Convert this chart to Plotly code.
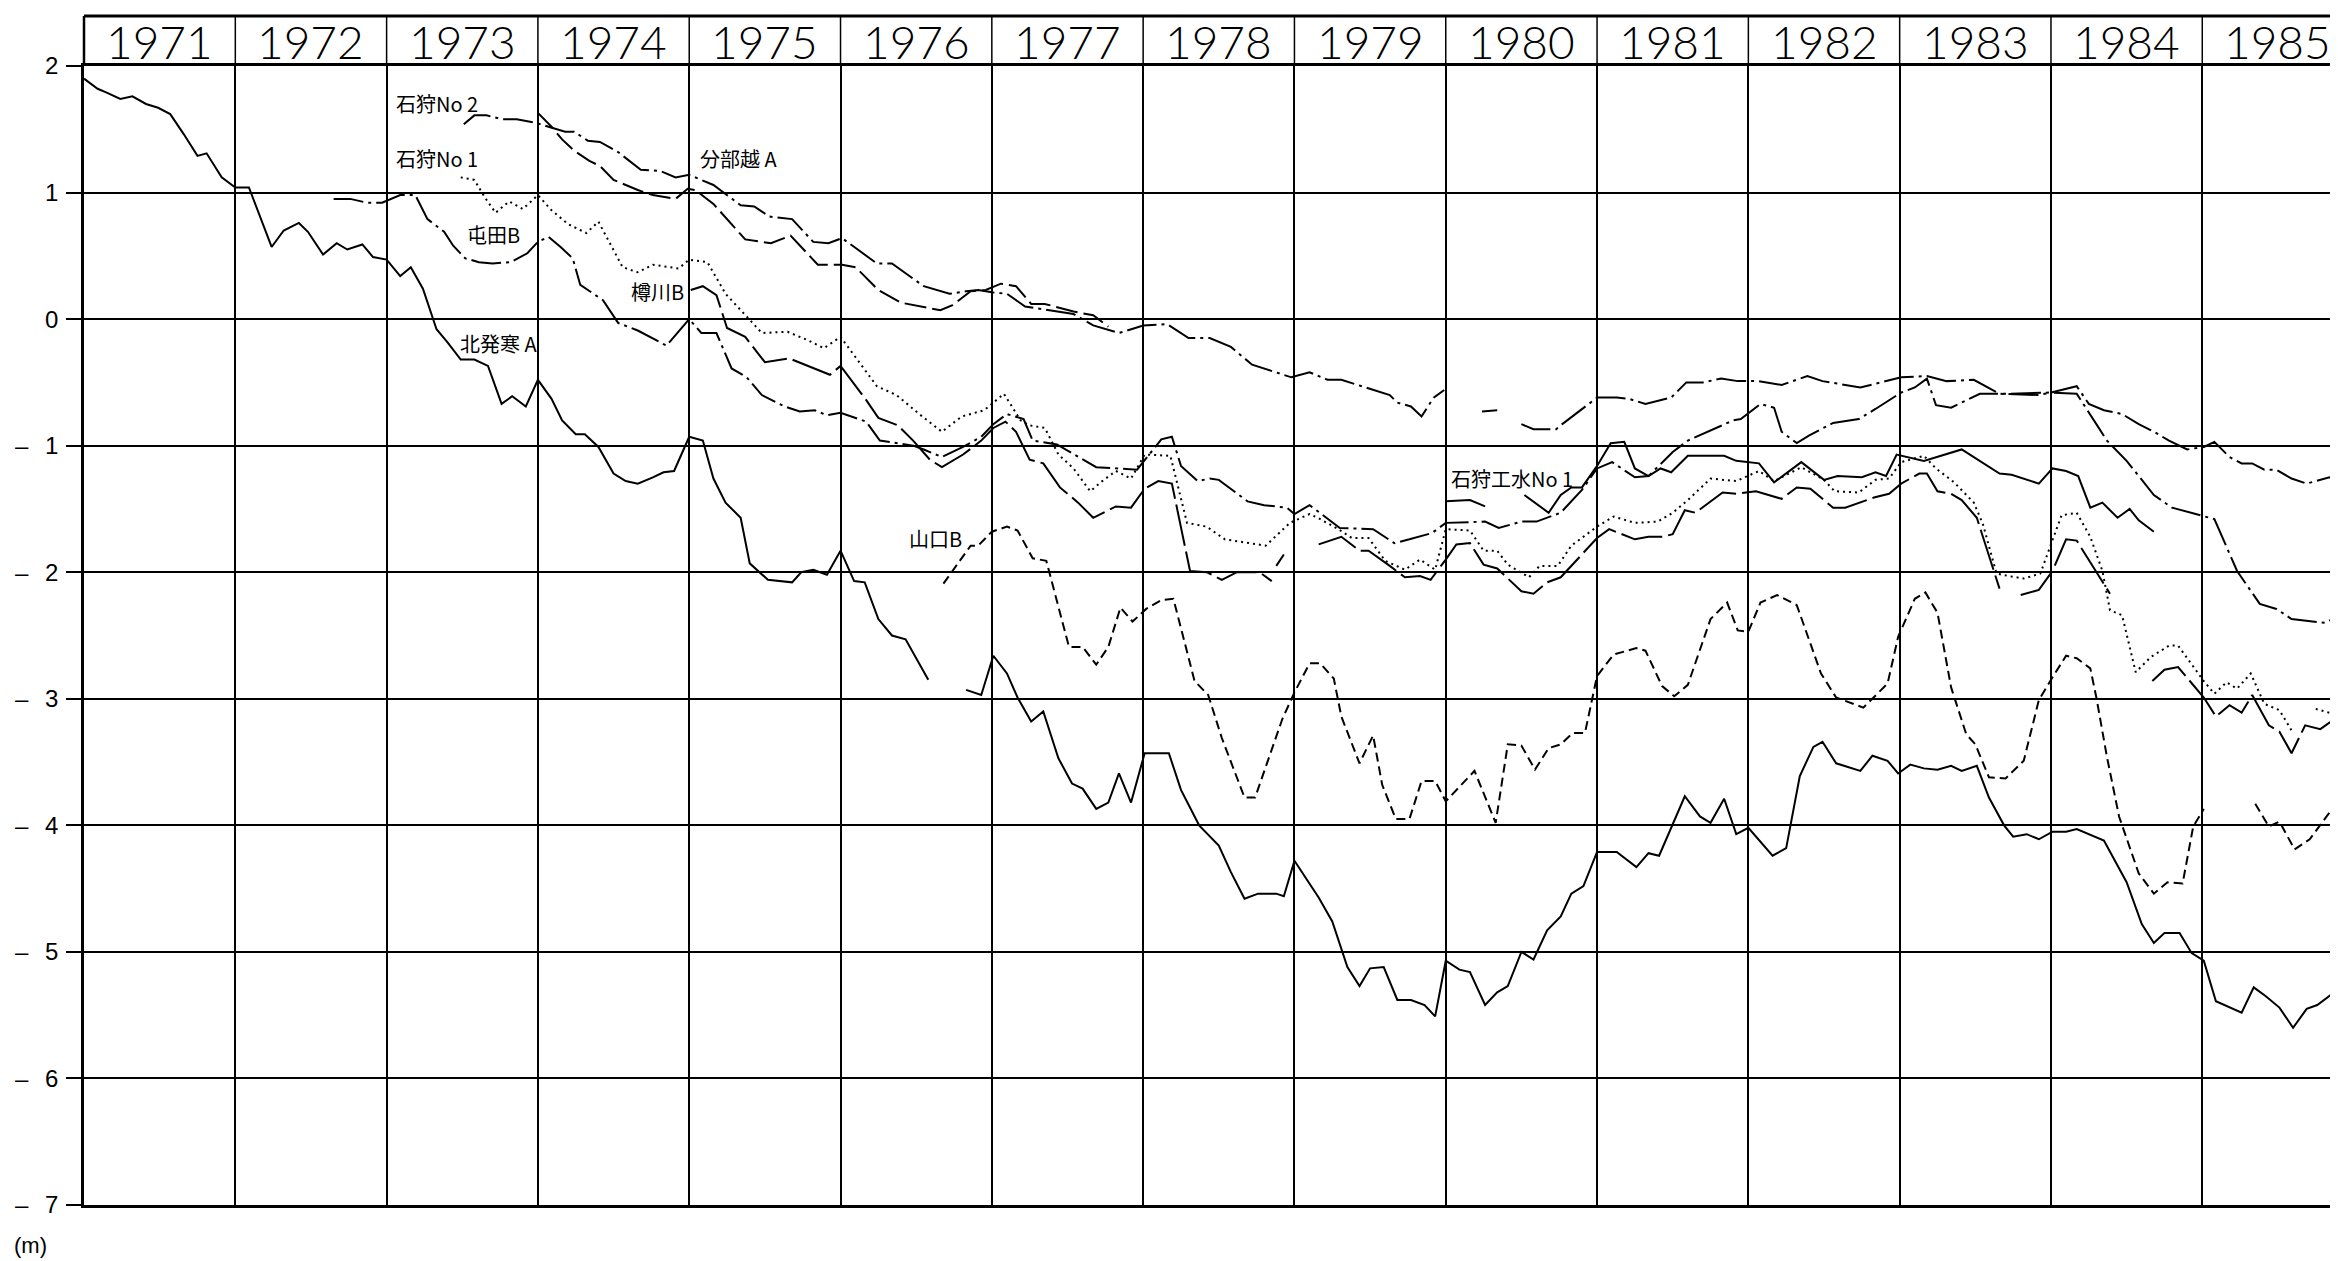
import plotly.graph_objects as go

# ---------------- axis / label data ----------------
YEARS = list(range(1971, 1986))
X_RIGHT = 1985.897
Y_TICKS = [2, 1, 0, -1, -2, -3, -4, -5, -6, -7]
Y_TICK_TEXT = ["2", "1", "0", "–\u2002\u20091", "–\u2002\u20092", "–\u2002\u20093",
               "–\u2002\u20094", "–\u2002\u20095", "–\u2002\u20096", "–\u2002\u20097"]
UNIT_LABEL = "(m)"

# ---------------- series (decimal year, level m) ----------------
KITAHASSAMU_A = [
    (1971.0, 1.90), (1971.09, 1.82), (1971.15, 1.79), (1971.24, 1.74), (1971.32, 1.76),
    (1971.41, 1.70), (1971.49, 1.67), (1971.57, 1.62), (1971.66, 1.46), (1971.75, 1.29),
    (1971.81, 1.31), (1971.91, 1.12), (1972.0, 1.04), (1972.09, 1.04), (1972.24, 0.57),
    (1972.32, 0.70), (1972.42, 0.76), (1972.48, 0.69), (1972.58, 0.51), (1972.67, 0.60),
    (1972.74, 0.55), (1972.84, 0.59), (1972.91, 0.49), (1973.0, 0.47), (1973.09, 0.34),
    (1973.16, 0.41), (1973.24, 0.24), (1973.33, -0.08), (1973.4, -0.18), (1973.49, -0.32),
    (1973.58, -0.32), (1973.67, -0.37), (1973.76, -0.67), (1973.83, -0.61), (1973.92, -0.69),
    (1974.0, -0.48), (1974.09, -0.63), (1974.16, -0.80), (1974.25, -0.91), (1974.31, -0.91),
    (1974.4, -1.01), (1974.5, -1.22), (1974.58, -1.28), (1974.66, -1.30), (1974.76, -1.25),
    (1974.83, -1.21), (1974.9, -1.20), (1975.0, -0.93), (1975.09, -0.96), (1975.16, -1.26),
    (1975.24, -1.45), (1975.34, -1.57), (1975.4, -1.93), (1975.52, -2.06), (1975.68, -2.08),
    (1975.74, -2.00), (1975.82, -1.98), (1975.91, -2.02), (1976.0, -1.83), (1976.09, -2.07),
    (1976.16, -2.08), (1976.25, -2.37), (1976.34, -2.50), (1976.43, -2.53), (1976.58, -2.85),
    (1976.7, None),
    (1976.83, -2.93), (1976.93, -2.97), (1977.01, -2.66), (1977.1, -2.80), (1977.17, -2.99),
    (1977.26, -3.18), (1977.34, -3.10), (1977.44, -3.47), (1977.53, -3.67), (1977.6, -3.71),
    (1977.69, -3.87), (1977.77, -3.82), (1977.84, -3.59), (1977.92, -3.82), (1978.01, -3.43),
    (1978.17, -3.43), (1978.25, -3.72), (1978.37, -4.00), (1978.5, -4.16), (1978.58, -4.37),
    (1978.67, -4.58), (1978.76, -4.54), (1978.88, -4.54), (1978.93, -4.56), (1979.0, -4.28),
    (1979.16, -4.57), (1979.25, -4.76), (1979.35, -5.12), (1979.43, -5.27), (1979.5, -5.13),
    (1979.59, -5.12), (1979.68, -5.38), (1979.77, -5.38), (1979.86, -5.42), (1979.93, -5.51),
    (1980.0, -5.07), (1980.09, -5.14), (1980.16, -5.16), (1980.26, -5.42), (1980.34, -5.32),
    (1980.41, -5.27), (1980.5, -5.00), (1980.58, -5.06), (1980.67, -4.83), (1980.76, -4.72),
    (1980.83, -4.54), (1980.91, -4.48), (1981.0, -4.21), (1981.13, -4.21), (1981.26, -4.33),
    (1981.34, -4.22), (1981.41, -4.24), (1981.58, -3.77), (1981.68, -3.93), (1981.75, -3.98),
    (1981.84, -3.79), (1981.92, -4.07), (1982.0, -4.02), (1982.16, -4.24), (1982.25, -4.18),
    (1982.34, -3.61), (1982.43, -3.38), (1982.49, -3.34), (1982.58, -3.51), (1982.74, -3.57),
    (1982.82, -3.45), (1982.92, -3.49), (1982.99, -3.59), (1983.07, -3.52), (1983.16, -3.55),
    (1983.25, -3.56), (1983.34, -3.53), (1983.41, -3.57), (1983.51, -3.53), (1983.59, -3.78),
    (1983.69, -4.00), (1983.75, -4.09), (1983.84, -4.07), (1983.92, -4.11), (1984.01, -4.05),
    (1984.1, -4.05), (1984.17, -4.03), (1984.35, -4.12), (1984.5, -4.45), (1984.6, -4.78),
    (1984.68, -4.93), (1984.75, -4.85), (1984.85, -4.85), (1984.93, -5.01), (1985.01, -5.07),
    (1985.09, -5.39), (1985.26, -5.48), (1985.34, -5.28), (1985.42, -5.35), (1985.51, -5.44),
    (1985.6, -5.60), (1985.69, -5.45), (1985.76, -5.42), (1985.85, -5.34), (1985.91, -5.38),
]

TONDEN_B = [
    (1972.65, 0.95), (1972.76, 0.95), (1972.87, 0.92), (1972.97, 0.92), (1973.09, 0.98),
    (1973.19, 0.98), (1973.27, 0.79), (1973.38, 0.69), (1973.44, 0.58), (1973.52, 0.48),
    (1973.61, 0.45), (1973.7, 0.44), (1973.82, 0.45), (1973.93, 0.52), (1974.0, 0.61),
    (1974.07, 0.65), (1974.15, 0.57), (1974.23, 0.48), (1974.28, 0.27), (1974.43, 0.15),
    (1974.53, -0.03), (1974.66, -0.09), (1974.85, -0.21), (1975.0, 0.00), (1975.08, -0.11),
    (1975.18, -0.11), (1975.28, -0.39), (1975.38, -0.46), (1975.48, -0.60), (1975.63, -0.69),
    (1975.73, -0.73), (1975.83, -0.72), (1975.91, -0.76), (1976.0, -0.74), (1976.17, -0.81),
    (1976.26, -0.96), (1976.48, -1.00), (1976.55, -1.03), (1976.67, -1.09), (1976.81, -1.01),
    (1976.93, -0.93), (1977.01, -0.83), (1977.1, -0.75), (1977.21, -0.79), (1977.27, -0.96),
    (1977.43, -0.99), (1977.69, -1.17), (1977.82, -1.18), (1977.96, -1.19), (1978.12, -0.95),
    (1978.19, -0.93), (1978.25, -1.16), (1978.36, -1.28), (1978.44, -1.26), (1978.5, -1.27),
    (1978.69, -1.44), (1978.8, -1.47), (1978.95, -1.49), (1979.0, -1.54), (1979.1, -1.47),
    (1979.3, -1.65), (1979.52, -1.66), (1979.66, -1.77), (1979.76, -1.74), (1979.91, -1.69),
    (1980.0, -1.61), (1980.26, -1.60), (1980.35, -1.65), (1980.5, -1.60), (1980.6, -1.60),
    (1980.76, -1.53), (1980.9, -1.35), (1981.0, -1.18), (1981.1, -1.13), (1981.25, -1.25),
    (1981.34, -1.24), (1981.5, -1.05), (1981.6, -0.96), (1981.75, -0.88), (1981.9, -0.80),
    (1981.95, -0.79), (1982.08, -0.67), (1982.17, -0.70), (1982.22, -0.89), (1982.32, -0.98),
    (1982.4, -0.92), (1982.56, -0.82), (1982.73, -0.79), (1982.84, -0.71), (1983.01, -0.58),
    (1983.1, -0.54), (1983.18, -0.47), (1983.24, -0.68), (1983.34, -0.70), (1983.53, -0.59),
    (1983.72, -0.59), (1984.0, -0.58), (1984.17, -0.59), (1984.3, -0.83), (1984.37, -0.96),
    (1984.5, -1.12), (1984.68, -1.39), (1984.8, -1.49), (1985.01, -1.56), (1985.08, -1.58),
    (1985.23, -1.99), (1985.38, -2.25), (1985.49, -2.29), (1985.59, -2.37), (1985.81, -2.40),
    (1985.91, -2.34),
]

ISHIKARI_NO2 = [
    (1973.51, 1.54), (1973.58, 1.61), (1973.66, 1.61), (1973.76, 1.58), (1973.86, 1.58),
    (1973.99, 1.55), (1974.07, 1.52), (1974.18, 1.48), (1974.24, 1.48), (1974.33, 1.41),
    (1974.41, 1.40), (1974.53, 1.32), (1974.68, 1.18), (1974.81, 1.17), (1974.91, 1.12),
    (1975.0, 1.14), (1975.16, 1.06), (1975.34, 0.90), (1975.43, 0.89), (1975.53, 0.81),
    (1975.68, 0.79), (1975.82, 0.61), (1975.92, 0.60), (1976.01, 0.64), (1976.24, 0.44),
    (1976.34, 0.44), (1976.55, 0.26), (1976.72, 0.20), (1976.83, 0.22), (1976.91, 0.23),
    (1977.01, 0.21), (1977.1, 0.20), (1977.22, 0.10), (1977.54, 0.04), (1977.67, -0.05),
    (1977.84, -0.11), (1978.0, -0.05), (1978.16, -0.04), (1978.3, -0.15), (1978.44, -0.15),
    (1978.58, -0.22), (1978.72, -0.36), (1978.98, -0.46), (1979.1, -0.42), (1979.22, -0.48),
    (1979.31, -0.48), (1979.63, -0.60), (1979.68, -0.66), (1979.77, -0.69), (1979.84, -0.77),
    (1979.92, -0.62), (1979.99, -0.56), (1980.1, None),
    (1980.24, -0.73), (1980.34, -0.72), (1980.42, None),
    (1980.5, -0.83), (1980.58, -0.87), (1980.73, -0.87), (1980.77, -0.83), (1981.0, -0.62),
    (1981.13, -0.62), (1981.21, -0.63), (1981.32, -0.67), (1981.49, -0.62), (1981.59, -0.50),
    (1981.7, -0.50), (1981.82, -0.47), (1981.93, -0.49), (1982.07, -0.49), (1982.22, -0.52),
    (1982.39, -0.45), (1982.49, -0.49), (1982.74, -0.54), (1983.01, -0.46), (1983.18, -0.45),
    (1983.31, -0.49), (1983.49, -0.48), (1983.66, -0.59), (1983.92, -0.60), (1984.0, -0.58),
    (1984.17, -0.53), (1984.25, -0.67), (1984.35, -0.72), (1984.47, -0.75), (1984.58, -0.83),
    (1984.68, -0.89), (1984.78, -0.96), (1984.9, -1.03), (1985.01, -1.01), (1985.08, -0.97),
    (1985.18, -1.09), (1985.26, -1.14), (1985.33, -1.14), (1985.41, -1.19), (1985.49, -1.19),
    (1985.59, -1.26), (1985.69, -1.30), (1985.84, -1.25), (1985.91, -1.29),
]

WAKEBEKOSHI_A = [
    (1974.0, 1.63), (1974.09, 1.52), (1974.16, 1.42), (1974.24, 1.33), (1974.34, 1.25),
    (1974.41, 1.21), (1974.5, 1.10), (1974.66, 1.02), (1974.76, 0.98), (1974.91, 0.95),
    (1974.99, 1.03), (1975.04, 1.02), (1975.16, 0.91), (1975.37, 0.63), (1975.54, 0.60),
    (1975.67, 0.66), (1975.85, 0.43), (1976.01, 0.43), (1976.1, 0.41), (1976.25, 0.23),
    (1976.4, 0.13), (1976.66, 0.07), (1976.74, 0.11), (1976.86, 0.22), (1976.96, 0.23),
    (1977.06, 0.28), (1977.16, 0.26), (1977.26, 0.12), (1977.35, 0.12), (1977.54, 0.06),
    (1977.67, 0.03), (1977.77, -0.06),
]

ISHIKARI_NO1 = [
    (1973.49, 1.12), (1973.58, 1.10), (1973.65, 0.96), (1973.72, 0.84), (1973.81, 0.93),
    (1973.9, 0.87), (1974.0, 0.98), (1974.09, 0.86), (1974.2, 0.75), (1974.32, 0.68),
    (1974.4, 0.77), (1974.56, 0.41), (1974.66, 0.37), (1974.76, 0.43), (1974.93, 0.40),
    (1975.0, 0.47), (1975.12, 0.45), (1975.24, 0.20), (1975.38, 0.02), (1975.48, -0.11),
    (1975.65, -0.10), (1975.79, -0.17), (1975.89, -0.23), (1976.0, -0.14), (1976.24, -0.53),
    (1976.37, -0.60), (1976.52, -0.75), (1976.67, -0.89), (1976.8, -0.77), (1976.95, -0.72),
    (1977.08, -0.59), (1977.19, -0.80), (1977.25, -0.84), (1977.35, -0.86), (1977.44, -1.07),
    (1977.54, -1.18), (1977.65, -1.36), (1977.73, -1.28), (1977.82, -1.20), (1977.92, -1.26),
    (1978.01, -1.07), (1978.18, -1.08), (1978.29, -1.61), (1978.42, -1.64), (1978.54, -1.74),
    (1978.81, -1.79), (1978.97, -1.61), (1979.1, -1.54), (1979.17, -1.58), (1979.29, -1.66),
    (1979.38, -1.73), (1979.49, -1.73), (1979.6, -1.91), (1979.73, -1.98), (1979.83, -1.90),
    (1979.93, -1.98), (1980.0, -1.66), (1980.16, -1.67), (1980.25, -1.83), (1980.34, -1.83),
    (1980.41, -1.94), (1980.55, -2.04), (1980.62, -1.95), (1980.74, -1.95), (1980.83, -1.79),
    (1981.0, -1.64), (1981.11, -1.56), (1981.25, -1.61), (1981.4, -1.60), (1981.5, -1.53),
    (1981.6, -1.43), (1981.75, -1.26), (1981.92, -1.28), (1982.07, -1.20), (1982.17, -1.28),
    (1982.35, -1.17), (1982.5, -1.27), (1982.57, -1.36), (1982.73, -1.37), (1982.84, -1.27),
    (1982.93, -1.26), (1983.01, -1.13), (1983.16, -1.08), (1983.24, -1.18), (1983.36, -1.29),
    (1983.49, -1.45), (1983.55, -1.62), (1983.64, -2.01), (1983.72, -2.03), (1983.82, -2.05),
    (1983.93, -2.01), (1984.01, -1.75), (1984.07, -1.55), (1984.17, -1.53), (1984.26, -1.72),
    (1984.34, -1.99), (1984.39, -2.30), (1984.47, -2.34), (1984.56, -2.79), (1984.66, -2.67),
    (1984.78, -2.58), (1984.84, -2.58), (1985.01, -2.86), (1985.08, -2.96), (1985.16, -2.87),
    (1985.23, -2.92), (1985.32, -2.80), (1985.41, -3.04), (1985.51, -3.09), (1985.59, -3.25),
    (1985.67, None),
    (1985.75, -3.08), (1985.84, -3.11),
]

TARUKAWA_B = [
    (1975.01, 0.23), (1975.09, 0.26), (1975.18, 0.19), (1975.25, -0.07), (1975.37, -0.14),
    (1975.5, -0.34), (1975.66, -0.31), (1975.8, -0.38), (1975.93, -0.44), (1976.0, -0.37),
    (1976.17, -0.64), (1976.25, -0.78), (1976.38, -0.84), (1976.48, -0.96), (1976.59, -1.11),
    (1976.67, -1.17), (1976.81, -1.07), (1976.93, -0.96), (1977.01, -0.86), (1977.09, -0.81),
    (1977.16, -0.89), (1977.25, -1.11), (1977.34, -1.14), (1977.45, -1.33), (1977.57, -1.45),
    (1977.67, -1.57), (1977.82, -1.48), (1977.92, -1.49), (1978.01, -1.34), (1978.1, -1.28),
    (1978.19, -1.30), (1978.31, -1.99), (1978.42, -2.00), (1978.52, -2.06), (1978.62, -2.00),
    (1978.77, -2.00), (1978.85, -2.07), (1978.87, None),
    (1978.88, -1.95), (1978.93, -1.86), (1979.0, None),
    (1979.16, -1.78), (1979.31, -1.72), (1979.43, -1.83), (1979.49, -1.83), (1979.63, -1.95),
    (1979.73, -2.04), (1979.83, -2.03), (1979.9, -2.06), (1980.0, -1.90), (1980.07, -1.78),
    (1980.16, -1.77), (1980.25, -1.94), (1980.34, -1.97), (1980.41, -2.05), (1980.5, -2.15),
    (1980.58, -2.17), (1980.67, -2.08), (1980.76, -2.04), (1980.89, -1.87), (1981.0, -1.73),
    (1981.08, -1.66), (1981.25, -1.74), (1981.34, -1.72), (1981.43, -1.72), (1981.5, -1.70),
    (1981.58, -1.51), (1981.65, -1.53), (1981.83, -1.37), (1981.92, -1.38), (1982.05, -1.36),
    (1982.22, -1.42), (1982.32, -1.33), (1982.41, -1.34), (1982.56, -1.49), (1982.64, -1.49),
    (1982.83, -1.41), (1982.93, -1.38), (1983.01, -1.30), (1983.13, -1.22), (1983.18, -1.22),
    (1983.25, -1.36), (1983.34, -1.38), (1983.41, -1.43), (1983.51, -1.57), (1983.66, -2.13),
    (1983.72, None),
    (1983.8, -2.18), (1983.92, -2.14), (1984.01, -1.99), (1984.1, -1.74), (1984.17, -1.75),
    (1984.39, -2.17), (1984.5, None),
    (1984.67, -2.86), (1984.75, -2.77), (1984.84, -2.75), (1985.01, -2.99), (1985.09, -3.14),
    (1985.18, -3.05), (1985.26, -3.11), (1985.33, -2.97), (1985.44, -3.21), (1985.51, -3.26),
    (1985.59, -3.43), (1985.68, -3.21), (1985.78, -3.24), (1985.91, -3.13),
]

YAMAGUCHI_B = [
    (1976.68, -2.09), (1976.86, -1.79), (1976.91, -1.79), (1977.0, -1.68), (1977.1, -1.64),
    (1977.17, -1.67), (1977.27, -1.89), (1977.36, -1.91), (1977.51, -2.59), (1977.6, -2.59),
    (1977.69, -2.73), (1977.77, -2.59), (1977.85, -2.28), (1977.93, -2.39), (1978.02, -2.29),
    (1978.12, -2.22), (1978.2, -2.21), (1978.34, -2.86), (1978.43, -2.97), (1978.52, -3.31),
    (1978.67, -3.78), (1978.74, -3.78), (1978.92, -3.16), (1979.0, -2.95), (1979.1, -2.72),
    (1979.17, -2.72), (1979.26, -2.84), (1979.31, -3.14), (1979.43, -3.51), (1979.52, -3.29),
    (1979.58, -3.68), (1979.67, -3.95), (1979.76, -3.95), (1979.84, -3.65), (1979.93, -3.65),
    (1980.0, -3.81), (1980.19, -3.57), (1980.33, -3.98), (1980.41, -3.36), (1980.5, -3.37),
    (1980.59, -3.56), (1980.68, -3.39), (1980.76, -3.36), (1980.84, -3.27), (1980.92, -3.27),
    (1981.0, -2.82), (1981.11, -2.65), (1981.26, -2.60), (1981.32, -2.62), (1981.43, -2.90),
    (1981.51, -2.98), (1981.6, -2.89), (1981.75, -2.37), (1981.86, -2.24), (1981.93, -2.46),
    (1982.0, -2.47), (1982.08, -2.24), (1982.19, -2.18), (1982.32, -2.26), (1982.48, -2.80),
    (1982.58, -2.99), (1982.76, -3.07), (1982.92, -2.88), (1982.99, -2.51), (1983.1, -2.21),
    (1983.17, -2.16), (1983.25, -2.32), (1983.34, -2.91), (1983.44, -3.28), (1983.5, -3.36),
    (1983.59, -3.62), (1983.7, -3.63), (1983.82, -3.49), (1983.92, -3.01), (1984.01, -2.83),
    (1984.1, -2.66), (1984.17, -2.68), (1984.26, -2.76), (1984.3, -2.99), (1984.37, -3.46),
    (1984.45, -3.93), (1984.58, -4.38), (1984.68, -4.54), (1984.77, -4.45), (1984.87, -4.46),
    (1984.94, -4.01), (1985.01, -3.87), (1985.1, None),
    (1985.35, -3.83), (1985.44, -4.01), (1985.51, -3.97), (1985.61, -4.19), (1985.71, -4.11),
    (1985.84, -3.90), (1985.91, -3.97),
]

ISHIKARI_KOSUI_NO1 = [
    (1980.0, -1.44), (1980.16, -1.43), (1980.26, -1.48), (1980.4, None),
    (1980.52, -1.39), (1980.68, -1.53), (1980.76, -1.39), (1980.83, -1.33), (1980.9, -1.33),
    (1981.0, -1.16), (1981.09, -0.98), (1981.18, -0.97), (1981.25, -1.18), (1981.34, -1.24),
    (1981.42, -1.18), (1981.49, -1.21), (1981.6, -1.08), (1981.84, -1.08), (1981.92, -1.12),
    (1982.07, -1.14), (1982.17, -1.29), (1982.35, -1.13), (1982.5, -1.27), (1982.59, -1.24),
    (1982.75, -1.25), (1982.84, -1.21), (1982.91, -1.24), (1982.98, -1.07), (1983.16, -1.12),
    (1983.41, -1.03), (1983.66, -1.22), (1983.74, -1.23), (1983.92, -1.30), (1984.01, -1.18),
    (1984.1, -1.20), (1984.18, -1.24), (1984.26, -1.49), (1984.34, -1.45), (1984.44, -1.57),
    (1984.52, -1.50), (1984.58, -1.59), (1984.68, -1.68),
]

# well-name labels: (text, x-left in years, y in m)
LABELS = [
    ("石狩No 2", 1973.05, 1.70),
    ("石狩No 1", 1973.05, 1.27),
    ("分部越 A", 1975.06, 1.27),
    ("屯田B", 1973.52, 0.67),
    ("樽川B", 1974.60, 0.22),
    ("北発寒 A", 1973.47, -0.19),
    ("山口B", 1976.44, -1.73),
    ("石狩工水No 1", 1980.02, -1.26),
]

# ---------------- styles ----------------
DASH_DOT = "30px,5px,3px,5px"
LONG_DASH = "22px,6px"
LONG_SOLIDISH = "42px,6px"
DOTTED = "2px,4px"
DASHED = "9px,5px"

SERIES = [
    ("北発寒A", KITAHASSAMU_A, "solid"),
    ("屯田B", TONDEN_B, DASH_DOT),
    ("石狩No2", ISHIKARI_NO2, DASH_DOT),
    ("分部越A", WAKEBEKOSHI_A, LONG_DASH),
    ("石狩No1", ISHIKARI_NO1, DOTTED),
    ("樽川B", TARUKAWA_B, LONG_SOLIDISH),
    ("山口B", YAMAGUCHI_B, DASHED),
    ("石狩工水No1", ISHIKARI_KOSUI_NO1, "solid"),
]

fig = go.Figure()
for name, pts, dash in SERIES:
    fig.add_trace(go.Scatter(
        x=[p[0] for p in pts], y=[p[1] for p in pts], mode="lines", name=name,
        connectgaps=False, hoverinfo="skip",
        line=dict(color="black", width=2, dash=dash),
    ))

# page offset (browser default body margin) compensated so the plot lands at
# screen x 84..2338, y 66..1205
OFF = 8
W, H = 2338 - OFF, 1261 - OFF
M_L, M_R, M_T = 84 - OFF, 0, 66 - OFF
M_B = H - (1205 - OFF)
plot_h = H - M_T - M_B
plot_w = W - M_L - M_R
HEADER = 50.0 / plot_h
span = X_RIGHT - YEARS[0]

shapes = []
for yr in YEARS:
    xp = (yr - YEARS[0]) / span
    shapes.append(dict(type="line", xref="paper", yref="paper", x0=xp, x1=xp,
                       y0=1, y1=1 + HEADER,
                       line=dict(color="black", width=2.5 if yr == YEARS[0] else 1.5)))
shapes.append(dict(type="line", xref="paper", yref="paper", x0=0, x1=1,
                   y0=1 + HEADER, y1=1 + HEADER, line=dict(color="black", width=3)))

annotations = []
for yr in YEARS:
    annotations.append(dict(x=yr + 0.5, xref="x", y=1 + HEADER * 0.5, yref="paper",
                            text=str(yr), showarrow=False, xanchor="center", yanchor="middle",
                            font=dict(family="Lato, DejaVu Sans, sans-serif", size=46,
                                      color="black", weight=300)))
for text, lx, ly in LABELS:
    annotations.append(dict(x=lx, y=ly, xref="x", yref="y", text=text, showarrow=False,
                            xanchor="left", yanchor="middle",
                            font=dict(family="Noto Sans CJK JP, sans-serif", size=20,
                                      color="black")))
annotations.append(dict(x=(30 - 84) / plot_w, y=(1205 - 1245) / plot_h,
                        xref="paper", yref="paper", text=UNIT_LABEL, showarrow=False,
                        xanchor="center", yanchor="middle",
                        font=dict(family="Liberation Sans, Arial, sans-serif", size=22,
                                  color="black")))

fig.update_layout(
    width=W, height=H, margin=dict(l=M_L, r=M_R, t=M_T, b=M_B, pad=0),
    paper_bgcolor="white", plot_bgcolor="white", showlegend=False,
    shapes=shapes, annotations=annotations,
)
fig.update_xaxes(range=[YEARS[0], X_RIGHT], tickvals=YEARS, showticklabels=False, ticks="",
                 showgrid=True, gridcolor="black", gridwidth=1.5, zeroline=False,
                 showline=True, linecolor="black", linewidth=3, mirror=True)
fig.update_yaxes(range=[-7, 2], tickvals=Y_TICKS, ticktext=Y_TICK_TEXT, ticks="outside",
                 ticklen=15, tickwidth=1.5, tickcolor="black", ticklabelstandoff=3,
                 tickfont=dict(family="Liberation Sans, Arial, sans-serif", size=24,
                               color="black"),
                 showgrid=True, gridcolor="black", gridwidth=1.5, zeroline=False,
                 showline=True, linecolor="black", linewidth=2.5, mirror=False)

fig.write_html("out.html")
